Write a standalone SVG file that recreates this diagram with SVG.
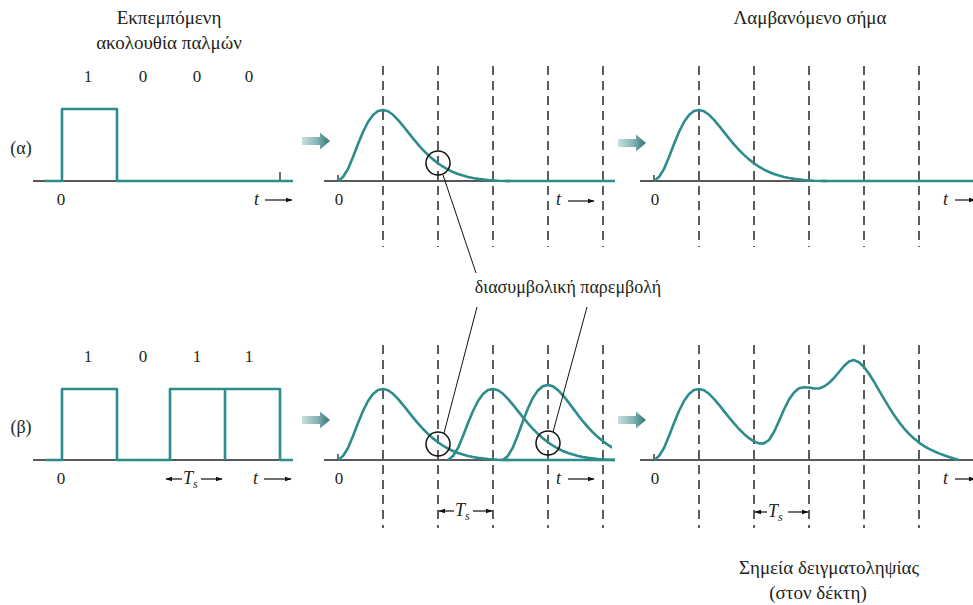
<svg xmlns="http://www.w3.org/2000/svg" xmlns:xlink="http://www.w3.org/1999/xlink" width="973" height="605" viewBox="0 0 973 605">
<style>
.txt{font-family:"Liberation Serif","Noto Serif","DejaVu Serif",serif;fill:#231f20}
.ttl{font-size:19px;text-anchor:middle}
.num{font-size:17px;text-anchor:middle}
.it{font-style:italic;font-size:18px}
.sub{font-style:italic;font-size:12px}
.axis{stroke:#222;stroke-width:1.3;fill:none}
.sig{stroke:#2d8c8c;stroke-width:2.6;fill:none;stroke-linejoin:round;stroke-linecap:butt}
.dash{stroke:#333;stroke-width:1.6;stroke-dasharray:9 6;fill:none}
.circ{stroke:#111;stroke-width:1.5;fill:none}
.conn{stroke:#111;stroke-width:1;fill:none}
.arr{stroke:#111;stroke-width:1.2;fill:none}
.blk{fill:url(#bg)}
</style>
<defs>
<linearGradient id="bg" x1="0" y1="0" x2="1" y2="0">
<stop offset="0" stop-color="#c9dfdf"/>
<stop offset="0.55" stop-color="#82b3b4"/>
<stop offset="1" stop-color="#2f7273"/>
</linearGradient>
<marker id="ah" viewBox="0 0 10 10" refX="9" refY="5" markerWidth="7" markerHeight="7" markerUnits="userSpaceOnUse" orient="auto">
<path d="M0 1.5 L10 5 L0 8.5 Z" fill="#111"/>
</marker>
<path id="pulse" d="M0 0 L5 -4 L10 -12 L15 -24 L20 -37 L25 -49 L30 -59 L35 -66 L40 -70 L45 -71 L50 -69.7 L55 -66.2 L60 -61.1 L65 -55.2 L70 -48.9 L75 -42.6 L80 -36.6 L85 -31 L90 -26.1 L95 -21.6 L100 -17.75 L105 -14.3 L110 -11.4 L115 -9 L120 -7 L125 -5.4 L130 -4.1 L135 -3 L140 -2.1 L150 -1 L160 -0.3 L172 0"/>
<path id="barrow" d="M0 -4 H18 V-8.5 L28 0 L18 8.5 V4 H0 Z"/>
<clipPath id="c615"><rect x="300" y="300" width="315" height="200"/></clipPath>
<clipPath id="c612"><rect x="300" y="300" width="312" height="200"/></clipPath>
</defs>

<!-- Titles -->
<g id="title-tx">
<text class="txt ttl" x="169" y="24">Εκπεμπόμενη</text>
<text class="txt ttl" x="169" y="49">ακολουθία παλμών</text>
</g>
<g id="title-rx">
<text class="txt ttl" x="810" y="24">Λαμβανόμενο σήμα</text>
</g>

<!-- Row (a) -->
<g id="a-tx">
<text class="txt num" x="21" y="154" style="font-size:18px">(α)</text>
<text class="txt num" x="88" y="82">1</text>
<text class="txt num" x="143" y="82">0</text>
<text class="txt num" x="197" y="82">0</text>
<text class="txt num" x="249" y="82">0</text>
<line class="axis" x1="33" y1="181" x2="293" y2="181"/>
<line class="axis" x1="280" y1="172" x2="280" y2="181"/>
<path class="sig" d="M45 181 H62 V109 H117 V181 H293"/>
<text class="txt num" x="61" y="205">0</text>
<text class="txt it" x="254" y="205">t</text>
<line class="arr" x1="265" y1="200" x2="292" y2="200" marker-end="url(#ah)"/>
</g>

<g id="a-arrow1"><use xlink:href="#barrow" class="blk" transform="translate(302,141)"/></g>

<g id="a-mid">
<line class="dash" x1="383" y1="66" x2="383" y2="247"/>
<line class="dash" x1="438" y1="66" x2="438" y2="247"/>
<line class="dash" x1="493" y1="66" x2="493" y2="247"/>
<line class="dash" x1="548" y1="66" x2="548" y2="247"/>
<line class="dash" x1="603" y1="66" x2="603" y2="247"/>
<line class="axis" x1="324" y1="181" x2="615" y2="181"/>
<line class="axis" x1="338" y1="175" x2="338" y2="181"/>
<use xlink:href="#pulse" class="sig" transform="translate(338,181)"/>
<line class="sig" x1="505" y1="181" x2="615" y2="181"/>
<circle class="circ" cx="438" cy="163" r="12"/>
<text class="txt num" x="339" y="205">0</text>
<text class="txt it" x="556" y="205">t</text>
<line class="arr" x1="568" y1="201" x2="594" y2="201" marker-end="url(#ah)"/>
</g>

<g id="a-arrow2"><use xlink:href="#barrow" class="blk" transform="translate(618,143)"/></g>

<g id="a-rx">
<line class="dash" x1="699" y1="66" x2="699" y2="247"/>
<line class="dash" x1="754" y1="66" x2="754" y2="247"/>
<line class="dash" x1="809" y1="66" x2="809" y2="247"/>
<line class="dash" x1="864" y1="66" x2="864" y2="247"/>
<line class="dash" x1="919" y1="66" x2="919" y2="247"/>
<line class="axis" x1="640" y1="181" x2="973" y2="181"/>
<line class="axis" x1="654" y1="175" x2="654" y2="181"/>
<use xlink:href="#pulse" class="sig" transform="translate(654,181)"/>
<line class="sig" x1="821" y1="181" x2="973" y2="181"/>
<text class="txt num" x="655" y="205">0</text>
<text class="txt it" x="943" y="205">t</text>
<line class="arr" x1="955" y1="200" x2="975" y2="200" marker-end="url(#ah)"/>
</g>

<!-- Row (b) -->
<g id="b-tx">
<text class="txt num" x="21" y="433" style="font-size:18px">(β)</text>
<text class="txt num" x="88" y="362">1</text>
<text class="txt num" x="143" y="362">0</text>
<text class="txt num" x="197" y="362">1</text>
<text class="txt num" x="249" y="362">1</text>
<line class="axis" x1="33" y1="460" x2="293" y2="460"/>
<path class="sig" d="M45 460 H62 V389 H117 V460 H170 V389 H280 V460 H293 M225 389 V460"/>
<text class="txt num" x="61" y="484">0</text>
<line class="arr" x1="182" y1="479" x2="166" y2="479" marker-end="url(#ah)"/>
<text class="txt it" x="183" y="484">T</text>
<text class="txt sub" x="193" y="488">s</text>
<line class="arr" x1="201" y1="479" x2="222" y2="479" marker-end="url(#ah)"/>
<text class="txt it" x="253" y="484">t</text>
<line class="arr" x1="264" y1="479" x2="291" y2="479" marker-end="url(#ah)"/>
</g>

<g id="b-arrow1"><use xlink:href="#barrow" class="blk" transform="translate(302,420)"/></g>

<g id="b-mid">
<line class="dash" x1="383" y1="345" x2="383" y2="528"/>
<line class="dash" x1="438" y1="345" x2="438" y2="528"/>
<line class="dash" x1="493" y1="345" x2="493" y2="528"/>
<line class="dash" x1="548" y1="345" x2="548" y2="528"/>
<line class="dash" x1="603" y1="345" x2="603" y2="528"/>
<line class="axis" x1="324" y1="460" x2="615" y2="460"/>
<line class="axis" x1="338" y1="454" x2="338" y2="460"/>
<g clip-path="url(#c615)">
<use xlink:href="#pulse" class="sig" transform="translate(338,460)"/>
<use xlink:href="#pulse" class="sig" transform="translate(448,460)"/>
<line class="sig" x1="500" y1="460" x2="615" y2="460"/>
</g>
<g clip-path="url(#c612)">
<use xlink:href="#pulse" class="sig" transform="translate(503,460) scale(1,1.056)"/>
</g>
<circle class="circ" cx="438" cy="444" r="12"/>
<circle class="circ" cx="548" cy="443" r="12"/>
<text class="txt num" x="339" y="484">0</text>
<text class="txt it" x="556" y="484">t</text>
<line class="arr" x1="568" y1="479" x2="594" y2="479" marker-end="url(#ah)"/>
<line class="arr" x1="454" y1="511" x2="439" y2="511" marker-end="url(#ah)"/>
<text class="txt it" x="455" y="516">T</text>
<text class="txt sub" x="465" y="520">s</text>
<line class="arr" x1="473" y1="511" x2="492" y2="511" marker-end="url(#ah)"/>
</g>

<g id="b-arrow2"><use xlink:href="#barrow" class="blk" transform="translate(618,420)"/></g>

<g id="b-rx">
<line class="dash" x1="699" y1="345" x2="699" y2="528"/>
<line class="dash" x1="754" y1="345" x2="754" y2="528"/>
<line class="dash" x1="809" y1="345" x2="809" y2="528"/>
<line class="dash" x1="864" y1="345" x2="864" y2="528"/>
<line class="dash" x1="919" y1="345" x2="919" y2="528"/>
<line class="axis" x1="640" y1="460" x2="973" y2="460"/>
<line class="axis" x1="654" y1="454" x2="654" y2="460"/>
<path class="sig" d="M654 460 L659 456 L664 448 L669 436 L674 423 L679 411 L684 401 L689 394 L694 390 L699 389 L704 390.3 L709 393.8 L714 398.9 L719 404.8 L724 411.1 L729 417.4 L734 423.4 L739 429 L744 433.9 L749 438.2 L754 441.5 L759 443.4 L764 443.4 L769 440 L774 432 L779 421 L784 409.5 L789 399.5 L794 392.5 L799 388.2 L804 387.2 L809 387.5 L814 388.5 L819 388.5 L824 386.5 L829 383 L834 378 L839 372 L844 366 L849 361.5 L854 360.1 L859 362.2 L864 367 L869 373.7 L874 381.7 L879 390.3 L884 398.9 L889 407.2 L894 415.1 L899 422.1 L904 428.3 L909 433.9 L914 438.6 L919 442.6 L924 446 L929 448.8 L934 451.2 L939 453.4 L944 455.3 L949 457 L954 458.6 L959 460"/>
<text class="txt num" x="655" y="484">0</text>
<text class="txt it" x="943" y="484">t</text>
<line class="arr" x1="955" y1="479" x2="975" y2="479" marker-end="url(#ah)"/>
<line class="arr" x1="767" y1="512" x2="755" y2="512" marker-end="url(#ah)"/>
<text class="txt it" x="768" y="517">T</text>
<text class="txt sub" x="778" y="521">s</text>
<line class="arr" x1="788" y1="512" x2="808" y2="512" marker-end="url(#ah)"/>
</g>

<g id="isi-label">
<text class="txt" x="568" y="293" style="font-size:18px;text-anchor:middle">διασυμβολική παρεμβολή</text>
</g>

<g id="sampling-label">
<text class="txt ttl" x="829" y="574">Σημεία δειγματοληψίας</text>
<text class="txt ttl" x="818" y="599">(στον δέκτη)</text>
</g>

<g id="connectors">
<line class="conn" x1="443" y1="175" x2="476" y2="273"/>
<line class="conn" x1="444" y1="433" x2="477" y2="307"/>
<line class="conn" x1="553" y1="432" x2="587" y2="307"/>
</g>
</svg>
